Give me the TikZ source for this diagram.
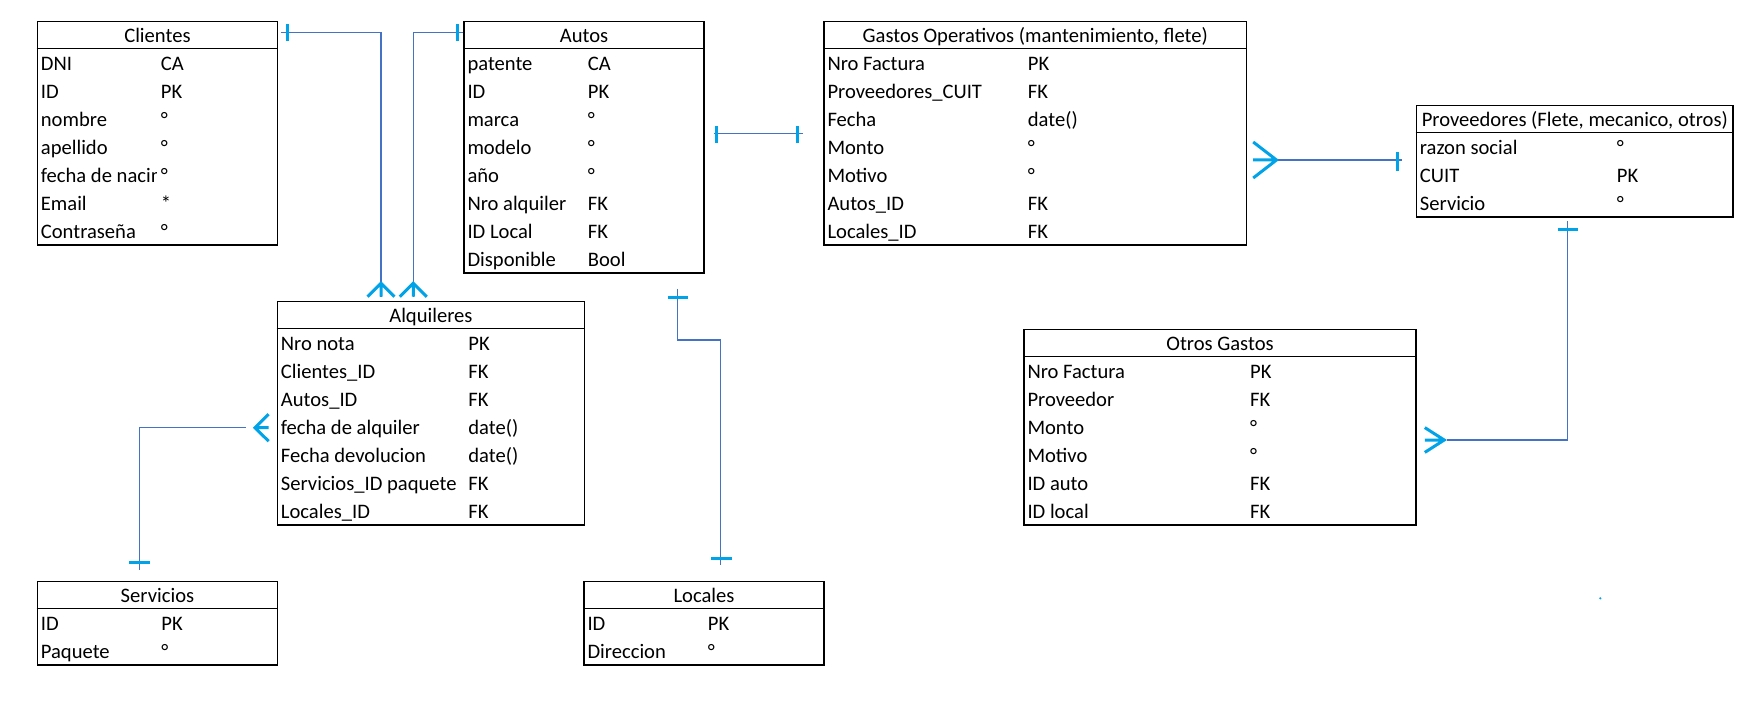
\documentclass[tikz,border=0pt]{standalone}
\usepackage{fontspec}
\setmainfont{Carlito}
\usetikzlibrary{calc}

\definecolor{linea}{RGB}{68,114,196}
\definecolor{marcaAzul}{RGB}{0,162,232}

\begin{document}
\begin{tikzpicture}[
    x=1pt, y=-1pt,
    tabla/.style={draw, line width=1.5pt, anchor=north west, inner sep=0pt},
    cabecera/.style={anchor=base, inner sep=0pt},
    campo/.style={anchor=base west, inner sep=0pt},
    conector/.style={draw=linea, line width=1.3pt},
    marca/.style={draw=marcaAzul, line width=3pt},
    every node/.style={
        font=\fontsize{20.6}{25}\selectfont,
        }
        ]
    \useasboundingbox (0,0) rectangle (1754,703);

    % Clientes
    \node[tabla, minimum width=240pt, minimum height=223.6pt] (clientes) at (36.7,20.7) {};
    \draw[line width=1.5pt] ($(clientes.north west)+(0,27.6)$) -- ($(clientes.north east)+(0,27.6)$);
    \node[cabecera] (clientesT) at ($(clientes.north)+(0,21.6)$) {Clientes};
    \begin{scope}
        \clip (clientes.north west) rectangle ($(clientes.south west)+(120,0)$);
        \foreach \c [count=\i] in {DNI, ID, nombre, apellido, fecha de nacimiento, Email, Contraseña}
            \node[campo] at ($(clientes.north west)+(4,{21.6+28*\i})$) {\c};
    \end{scope}
    \foreach \t [count=\i] in {CA, PK, °, °, °, *, °}
        \node[campo] at ($(clientes.north west)+(124,{21.6+28*\i})$) {\t};

    % Autos
    \node[tabla, minimum width=240pt, minimum height=251.6pt] (autos) at (463.3,20.7) {};
    \draw[line width=1.5pt] ($(autos.north west)+(0,27.6)$) -- ($(autos.north east)+(0,27.6)$);
    \node[cabecera] (autosT) at ($(autos.north)+(0,21.6)$) {Autos};
    \foreach \c/\t [count=\i] in {patente/CA, ID/PK, marca/°, modelo/°, año/°, Nro alquiler/FK, ID Local/FK, Disponible/Bool} {
        \node[campo] at ($(autos.north west)+(4,{21.6+28*\i})$) {\c};
        \node[campo] at ($(autos.north west)+(124.4,{21.6+28*\i})$) {\t};
    }

    % Gastos Operativos
    \node[tabla, minimum width=422.4pt, minimum height=223.6pt] (gastos) at (823.3,20.7) {};
    \draw[line width=1.5pt] ($(gastos.north west)+(0,27.6)$) -- ($(gastos.north east)+(0,27.6)$);
    \node[cabecera] (gastosT) at ($(gastos.north)+(0,21.6)$) {Gastos Operativos (mantenimiento, flete)};
    \foreach \c/\t [count=\i] in {Nro Factura/PK, Proveedores\_CUIT/FK, Fecha/date(), Monto/°, Motivo/°, Autos\_ID/FK, Locales\_ID/FK} {
        \node[campo] at ($(gastos.north west)+(4,{21.6+28*\i})$) {\c};
        \node[campo] at ($(gastos.north west)+(204.4,{21.6+28*\i})$) {\t};
    }

    % Proveedores
    \node[tabla, minimum width=316.6pt, minimum height=111.6pt] (proveedores) at (1415.7,104.7) {};
    \draw[line width=1.5pt] ($(proveedores.north west)+(0,27.6)$) -- ($(proveedores.north east)+(0,27.6)$);
    \node[cabecera] (proveedoresT) at ($(proveedores.north)+(0,21.6)$) {Proveedores (Flete, mecanico, otros)};
    \foreach \c/\t [count=\i] in {razon social/°, CUIT/PK, Servicio/°} {
        \node[campo] at ($(proveedores.north west)+(4,{21.6+28*\i})$) {\c};
        \node[campo] at ($(proveedores.north west)+(201,{21.6+28*\i})$) {\t};
    }

    % Otros Gastos
    \node[tabla, minimum width=392pt, minimum height=195.6pt] (otros) at (1023.3,328.7) {};
    \draw[line width=1.5pt] ($(otros.north west)+(0,27.6)$) -- ($(otros.north east)+(0,27.6)$);
    \node[cabecera] (otrosT) at ($(otros.north)+(0,21.6)$) {Otros Gastos};
    \foreach \c/\t [count=\i] in {Nro Factura/PK, Proveedor/FK, Monto/°, Motivo/°, ID auto/FK, ID local/FK} {
        \node[campo] at ($(otros.north west)+(4,{21.6+28*\i})$) {\c};
        \node[campo] at ($(otros.north west)+(226.7,{21.6+28*\i})$) {\t};
    }

    % Alquileres
    \node[tabla, minimum width=307pt, minimum height=223.6pt] (alquileres) at (276.7,300.7) {};
    \draw[line width=1.5pt] ($(alquileres.north west)+(0,27.6)$) -- ($(alquileres.north east)+(0,27.6)$);
    \node[cabecera] (alquileresT) at ($(alquileres.north)+(0,21.6)$) {Alquileres};
    \foreach \c/\t [count=\i] in {Nro nota/PK, Clientes\_ID/FK, Autos\_ID/FK, fecha de alquiler/date(), Fecha devolucion/date(), Servicios\_ID paquete/FK, Locales\_ID/FK} {
        \node[campo] at ($(alquileres.north west)+(4,{21.6+28*\i})$) {\c};
        \node[campo] at ($(alquileres.north west)+(191.5,{21.6+28*\i})$) {\t};
    }

    % Servicios
    \node[tabla, minimum width=240pt, minimum height=83.6pt] (servicios) at (36.7,580.7) {};
    \draw[line width=1.5pt] ($(servicios.north west)+(0,27.6)$) -- ($(servicios.north east)+(0,27.6)$);
    \node[cabecera] (serviciosT) at ($(servicios.north)+(0,21.6)$) {Servicios};
    \foreach \c/\t [count=\i] in {ID/PK, Paquete/°} {
        \node[campo] at ($(servicios.north west)+(4,{21.6+28*\i})$) {\c};
        \node[campo] at ($(servicios.north west)+(124.5,{21.6+28*\i})$) {\t};
    }

    % Locales
    \node[tabla, minimum width=240pt, minimum height=83.6pt] (locales) at (583.3,580.7) {};
    \draw[line width=1.5pt] ($(locales.north west)+(0,27.6)$) -- ($(locales.north east)+(0,27.6)$);
    \node[cabecera] (localesT) at ($(locales.north)+(0,21.6)$) {Locales};
    \foreach \c/\t [count=\i] in {ID/PK, Direccion/°} {
        \node[campo] at ($(locales.north west)+(4,{21.6+28*\i})$) {\c};
        \node[campo] at ($(locales.north west)+(124.4,{21.6+28*\i})$) {\t};
    }

    % Clientes -- Alquileres
    \draw[conector] ($(clientes.north east)+(2.3,11.6)$) -| ($(alquileres.north west)+(104.3,-4)$);
    \draw[marca] ($(clientes.north east)+(9.3,3.5)$) -- ++(0,17);
    \draw[marca] ($(alquileres.north west)+(90.8,-4)$) -- ++(13.5,-13.4) -- ++(13.5,13.4) ++(-13.5,0) -- ++(0,-13.4);

    % Autos -- Alquileres
    \draw[conector] ($(autos.north west)+(0,11.6)$) -| ($(alquileres.north west)+(136.6,-4)$);
    \draw[marca] ($(autos.north west)+(-5.6,3.5)$) -- ++(0,17);
    \draw[marca] ($(alquileres.north west)+(123.1,-4)$) -- ++(13.5,-13.4) -- ++(13.5,13.4) ++(-13.5,0) -- ++(0,-13.4);

    % Autos -- Gastos Operativos
    \draw[conector] ($(autos.north east)+(9.4,112.6)$) -- ($(gastos.north west)+(-20.6,112.6)$);
    \draw[marca] ($(autos.north east)+(12,105.3)$) -- ++(0,17);
    \draw[marca] ($(gastos.north west)+(-26,105.3)$) -- ++(0,17);

    % Gastos Operativos -- Proveedores
    \draw[conector] ($(gastos.north east)+(29.3,139.3)$) -- ($(proveedores.north west)+(-14,55.3)$);
    \draw[marca] ($(gastos.north east)+(6,121.3)$) -- ++(23.3,18) -- ++(-23.3,18) ++(0,-18) -- ++(23.3,0);
    \draw[marca] ($(proveedores.north west)+(-18.4,47.3)$) -- ++(0,19.5);

    % Proveedores -- Otros Gastos
    \draw[conector] ($(proveedores.south west)+(152,3.7)$) |- ($(otros.north east)+(29.7,111.3)$);
    \draw[marca] ($(proveedores.south west)+(142.6,12)$) -- ++(19.4,0);
    \draw[marca] ($(otros.north east)+(8,98.9)$) -- ++(19.4,12.4) -- ++(-19.4,12.4) ++(0,-12.4) -- ++(19.4,0);

    % Alquileres -- Servicios
    \draw[conector] ($(alquileres.north west)+(-30.7,127)$) -| ($(servicios.north west)+(102.9,-10.7)$);
    \draw[marca] ($(alquileres.north west)+(-8.1,113.5)$) -- ++(-13.6,13.5) -- ++(13.6,13.5) ++(0,-13.5) -- ++(-13.6,0);
    \draw[marca] ($(servicios.north west)+(92.3,-18)$) -- ++(20.8,0);

    % Autos -- Locales
    \draw[conector] ($(autos.south west)+(214.4,15)$) |- ($(locales.north west)+(137.4,-240.7)$) -- ($(locales.north west)+(137.4,-15.7)$);
    \draw[marca] ($(autos.south west)+(204.7,23.7)$) -- ++(20,0);
    \draw[marca] ($(locales.north west)+(127.7,-22.4)$) -- ++(21,0);

    \fill[marcaAzul] (1600.3,598.3) circle (1.2);
\end{tikzpicture}
\end{document}
